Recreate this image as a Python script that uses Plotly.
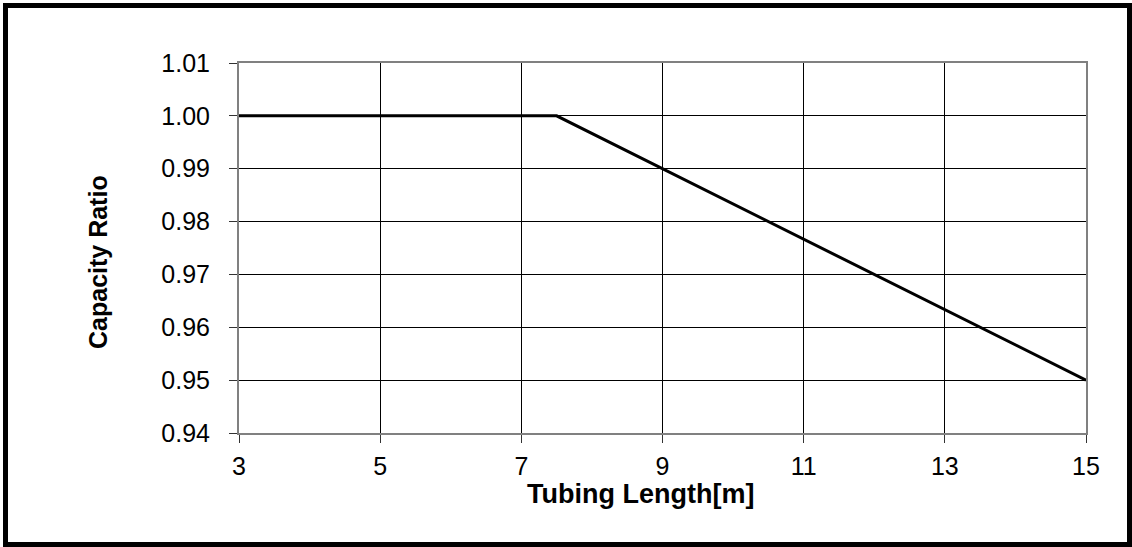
import plotly.graph_objects as go

# Data
tubing_length = [3, 7.5, 15]
capacity_ratio = [1.00, 1.00, 0.95]
x_ticks = [3, 5, 7, 9, 11, 13, 15]
y_ticks = [0.94, 0.95, 0.96, 0.97, 0.98, 0.99, 1.00, 1.01]
y_tick_text = [f"{v:.2f}" for v in y_ticks]

W, H = 1132, 547
L, R, T, B = 239, 1086, 63, 433
pw, ph = R - L, B - T

def px(x):
    return (x - L) / pw

def py(y):
    return (B - y) / ph

fig = go.Figure()
fig.add_trace(go.Scatter(
    x=tubing_length, y=capacity_ratio, mode="lines",
    line=dict(color="black", width=3), showlegend=False, cliponaxis=False,
))

FAM = "Liberation Sans, Arial, sans-serif"
font = dict(family=FAM, size=25, color="black")

fig.update_layout(
    width=W, height=H,
    margin=dict(l=L, r=W - R, t=T, b=H - B, autoexpand=False),
    paper_bgcolor="white", plot_bgcolor="white",
    font=font,
    xaxis=dict(
        range=[3, 15], tickvals=x_ticks, ticktext=[str(v) for v in x_ticks],
        showgrid=True, gridcolor="black", gridwidth=1,
        showline=True, linecolor="#808080", linewidth=2, mirror=True,
        ticks="outside", ticklen=8, tickcolor="#333333", tickwidth=1,
        zeroline=False, tickfont=font, automargin=False, ticklabelstandoff=2,
    ),
    yaxis=dict(
        range=[0.94, 1.01], tickvals=y_ticks, ticktext=y_tick_text,
        showgrid=True, gridcolor="black", gridwidth=1,
        showline=True, linecolor="#808080", linewidth=2, mirror=True,
        ticks="outside", ticklen=8, tickcolor="#333333", tickwidth=1,
        zeroline=False, tickfont=font, automargin=False, ticklabelstandoff=14,
    ),
    annotations=[
        dict(text="<b>Tubing Length[m]</b>", xref="paper", yref="paper",
             x=px(640), y=py(494), showarrow=False, xanchor="center", yanchor="middle",
             font=dict(family=FAM, size=27, color="black")),
        dict(text="<b>Capacity Ratio</b>", xref="paper", yref="paper",
             x=px(98), y=py(262), showarrow=False, xanchor="center", yanchor="middle",
             textangle=-90,
             font=dict(family=FAM, size=25, color="black")),
    ],
    shapes=[
        dict(type="rect", xref="paper", yref="paper",
             x0=px(5.5), x1=px(1129.5), y0=py(544.5), y1=py(5.5),
             line=dict(color="black", width=5), fillcolor="rgba(0,0,0,0)", layer="above"),
    ],
)

fig.write_html(
    "out.html",
    config={"displayModeBar": False},
    post_script="document.body.style.margin='0';document.body.style.overflow='hidden';",
)
